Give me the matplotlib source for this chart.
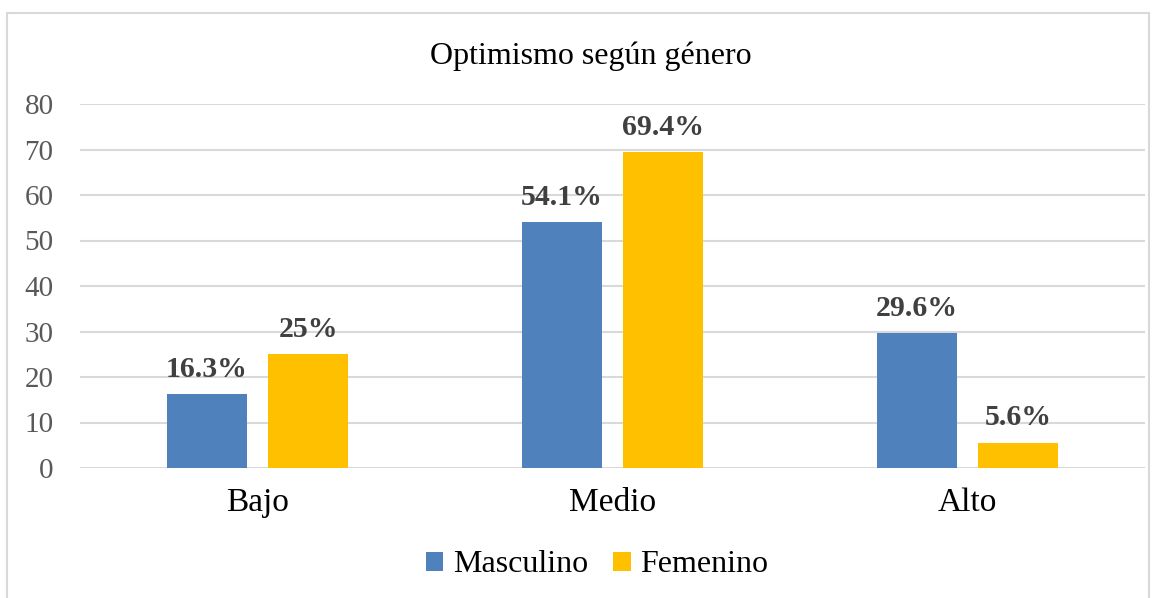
import matplotlib.pyplot as plt
import numpy as np

# Data
categories = ['Bajo', 'Medio', 'Alto']
masculino = [16.3, 54.1, 29.6]
femenino = [25.0, 69.4, 5.6]
masc_labels = ['16.3%', '54.1%', '29.6%']
fem_labels = ['25%', '69.4%', '5.6%']
yticks = [0, 10, 20, 30, 40, 50, 60, 70, 80]

plt.rcParams['font.family'] = ['Liberation Serif', 'DejaVu Serif']

BLUE = '#4f81bd'
GOLD = '#ffc000'

fig = plt.figure(figsize=(11.62, 5.98), dpi=100)
ax = fig.add_axes([80 / 1162, 1 - 468 / 598, 1065 / 1162, 364 / 598])

x = np.arange(len(categories))
w = 0.225
off = 0.143
b1 = ax.bar(x - off, masculino, w, color=BLUE, label='Masculino', zorder=3)
b2 = ax.bar(x + off, femenino, w, color=GOLD, label='Femenino', zorder=3)

for bars, labels in [(b1, masc_labels), (b2, fem_labels)]:
    for rect, lab in zip(bars, labels):
        ax.annotate(lab, (rect.get_x() + rect.get_width() / 2, rect.get_height()),
                    xytext=(0, 8), textcoords='offset points', ha='center', va='bottom',
                    fontsize=21.5, fontweight='bold', color='#404040')

ax.set_xlim(-0.5, 2.5)
ax.set_ylim(0, 80)
ax.set_yticks(yticks)
ax.set_xticks(x)
ax.set_xticklabels(categories, fontsize=24, color='black')
ax.tick_params(axis='y', labelsize=21, labelcolor='#595959', length=0, pad=19)
ax.tick_params(axis='x', length=0, pad=14)
ax.grid(axis='y', color='#d9d9d9', linewidth=1.5, zorder=0)
for s in ax.spines.values():
    s.set_visible(False)

fig.text(591 / 1162, 1 - 56 / 598, 'Optimismo según género', ha='center', va='center',
         fontsize=23, color='black')

leg = fig.legend(loc='center', bbox_to_anchor=(597 / 1162, 1 - 565 / 598), ncol=2, frameon=False,
                 fontsize=23, handlelength=0.55, handleheight=0.55, handletextpad=0.3,
                 columnspacing=0.8)

# Chart border
border = plt.Rectangle((7 / 1162, -0.1), 1142 / 1162, 1.1 - 13 / 598, transform=fig.transFigure,
                       fill=False, edgecolor='#d9d9d9', linewidth=1.5)
fig.patches.append(border)

fig.savefig('out.png', dpi=100)
